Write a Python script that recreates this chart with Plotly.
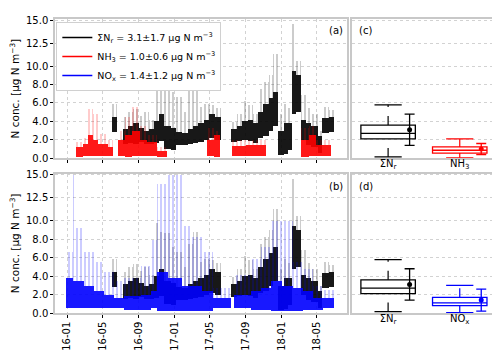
import pandas as pd
import plotly.graph_objects as go

# ---- time series: start, end, core low/high, peak ----
NR_START = ["2016-06-03", "2016-07-10", "2016-07-28", "2016-08-14", "2016-09-01", "2016-09-18",
            "2016-10-05", "2016-10-22", "2016-11-08", "2016-11-28", "2016-12-20", "2017-01-05",
            "2017-01-25", "2017-02-15", "2017-03-05", "2017-03-22", "2017-04-10", "2017-04-28",
            "2017-05-18", "2017-07-14", "2017-08-02", "2017-08-20", "2017-09-08", "2017-09-26",
            "2017-10-14", "2017-10-31", "2017-11-18", "2017-12-04", "2017-12-20", "2018-01-08",
            "2018-01-22", "2018-02-07", "2018-02-18", "2018-03-08", "2018-03-25", "2018-04-10",
            "2018-05-05", "2018-05-20", "2018-06-10"]
NR_END = ["2016-06-19", "2016-07-28", "2016-08-14", "2016-09-01", "2016-09-18", "2016-10-05",
          "2016-10-22", "2016-11-08", "2016-11-28", "2016-12-20", "2017-01-05", "2017-01-25",
          "2017-02-15", "2017-03-05", "2017-03-22", "2017-04-10", "2017-04-28", "2017-05-18",
          "2017-06-10", "2017-08-02", "2017-08-20", "2017-09-08", "2017-09-26", "2017-10-14",
          "2017-10-31", "2017-11-18", "2017-12-04", "2017-12-20", "2018-01-08", "2018-01-22",
          "2018-02-04", "2018-02-18", "2018-03-08", "2018-03-25", "2018-04-10", "2018-05-05",
          "2018-05-20", "2018-06-10", "2018-06-28"]
NR_LO = [2.8, 1.5, 1.7, 1.5, 1.8, 1.5, 1.5, 1.7, 1.9, 1.0, 0.9, 1.4, 1.4, 1.6, 1.7, 1.8, 2.0, 2.2,
         2.0, 1.8, 1.9, 2.0, 1.9, 1.7, 2.2, 2.4, 3.0, 3.5, 0.4, 0.5, 0.9, 4.8, 5.0, 2.0, 1.4, 1.2,
         0.6, 2.7, 2.8]
NR_HI = [4.5, 3.2, 3.5, 3.8, 3.3, 3.0, 3.2, 4.0, 4.8, 3.5, 3.3, 2.8, 2.7, 3.2, 3.5, 3.8, 4.2, 4.8,
         4.5, 3.2, 3.5, 4.0, 4.1, 3.8, 5.0, 5.9, 6.5, 7.2, 3.0, 3.8, 3.8, 9.5, 9.0, 4.1, 3.8, 3.5,
         2.4, 4.4, 4.5]
NR_PEAK = [5.9, 4.5, 5.0, 5.3, 4.6, 5.0, 4.2, 9.8, 8.8, 8.7, 7.2, 6.6, 5.0, 7.5, 8.8, 5.6, 5.9, 5.8,
           5.5, 3.9, 4.8, 6.2, 5.8, 4.8, 7.5, 8.3, 9.0, 11.3, 4.8, 5.9, 5.5, 14.6, 10.5, 6.9, 5.5,
           4.8, 3.0, 5.6, 5.2]

NH3_START = ["2016-01-30", "2016-02-24", "2016-03-12", "2016-03-28", "2016-04-15", "2016-05-18",
             "2016-06-21", "2016-07-18", "2016-08-11", "2016-09-04", "2016-10-01", "2016-11-03",
             "2017-04-21", "2017-05-15", "2017-07-15", "2017-09-03", "2018-03-08", "2018-04-04",
             "2018-04-28"]
NH3_END = ["2016-02-24", "2016-03-12", "2016-03-28", "2016-04-15", "2016-05-18", "2016-06-04",
           "2016-07-18", "2016-08-11", "2016-09-04", "2016-10-01", "2016-11-03", "2016-12-07",
           "2017-05-15", "2017-06-06", "2017-09-03", "2017-11-10", "2018-04-04", "2018-04-28",
           "2018-06-17"]
NH3_LO = [0.1, 0.2, 0.3, 0.3, 0.2, 0.2, 0.2, 0.1, 0.2, 0.3, 0.3, 0.1, 0.2, 0.1, 0.3, 0.3, 0.1, 0.2, 0.2]
NH3_HI = [1.2, 1.5, 2.5, 2.0, 1.5, 1.2, 2.0, 2.5, 3.0, 2.0, 1.8, 0.8, 2.0, 2.5, 1.3, 1.4, 2.0, 2.5, 1.4]
NH3_PEAK = [1.8, 2.2, 5.4, 4.8, 2.6, 2.0, 3.0, 4.5, 5.6, 3.5, 2.5, 1.2, 3.3, 3.0, 2.0, 2.0, 3.3, 3.5, 2.0]

NOX_START = ["2015-12-29", "2016-01-21", "2016-01-27", "2016-02-28", "2016-04-01", "2016-05-05",
             "2016-06-08", "2016-07-12", "2016-09-08", "2016-10-12", "2016-11-03", "2016-12-10",
             "2017-01-25", "2017-03-02", "2017-04-06", "2017-05-12", "2017-07-22", "2017-09-20",
             "2017-10-24", "2017-11-27", "2018-01-03", "2018-02-09", "2018-03-15", "2018-04-18",
             "2018-05-22"]
NOX_END = ["2016-01-21", "2016-01-27", "2016-02-28", "2016-04-01", "2016-05-05", "2016-06-08",
           "2016-07-12", "2016-09-08", "2016-10-12", "2016-11-03", "2016-12-10", "2017-01-25",
           "2017-03-02", "2017-04-06", "2017-05-12", "2017-07-11", "2017-09-20", "2017-10-24",
           "2017-11-27", "2018-01-03", "2018-02-09", "2018-03-15", "2018-04-18", "2018-05-22",
           "2018-06-28"]
NOX_LO = [0.6, 0.6, 0.6, 0.6, 0.6, 0.6, 0.6, 0.4, 0.4, 0.6, 0.3, 0.3, 0.3, 0.3, 0.3, 0.6, 0.6, 0.4,
          0.4, 0.3, 0.3, 0.3, 0.4, 0.4, 0.6]
NOX_HI = [3.8, 3.5, 3.5, 3.0, 2.4, 2.0, 1.7, 1.9, 2.0, 2.4, 4.5, 3.8, 3.0, 3.0, 2.4, 1.7, 2.0, 2.4,
          2.7, 3.5, 3.0, 2.7, 2.4, 1.7, 1.7]
NOX_PEAK = [6.6, 15.0, 9.3, 6.6, 5.6, 4.5, 3.5, 3.8, 5.1, 8.0, 14.0, 15.0, 9.5, 8.3, 6.6, 2.7, 4.1,
            5.9, 7.2, 10.0, 10.0, 5.6, 4.8, 3.0, 2.5]

# ---- box statistics (c, d) ----
BOX_LABELS = ["ΣN<sub>r</sub>", "NH<sub>3</sub>", "NO<sub>x</sub>"]
BOX_COLORS = ["black", "red", "blue"]
BOX_LOW = [0.15, 0.05, 0.05]
BOX_Q1 = [2.1, 0.56, 0.8]
BOX_MED = [2.7, 0.87, 1.1]
BOX_Q3 = [3.6, 1.23, 1.7]
BOX_HIGH = [5.8, 2.1, 3.0]
MEANS = [3.1, 1.0, 1.4]
SDS = [1.7, 0.6, 1.2]

YTICKS = [0, 2, 4, 6, 8, 10, 12.5, 15]
XTICKS = ["2016-01-01", "2016-05-01", "2016-09-01", "2017-01-01", "2017-05-01",
          "2017-09-01", "2018-01-01", "2018-05-01"]

FONT = "DejaVu Sans"
GRID = "#d2d2d2"
FRAME = "#c8c8c8"
YMAX = 15.11

fig = go.Figure()


def add_series(start, end, lo, hi, peak, color, xa, ya):
    s = pd.to_datetime(start)
    e = pd.to_datetime(end)
    mid = s + (e - s) / 2
    width = [(b - a).total_seconds() * 1000 for a, b in zip(s, e)]
    core = [h - l for l, h in zip(lo, hi)]
    top = [p - h for h, p in zip(hi, peak)]
    # sparse upper points, drawn as thin streaks
    fig.add_trace(go.Bar(
        x=mid, y=top, base=hi, width=width, xaxis=xa, yaxis=ya,
        marker=dict(color="rgba(0,0,0,0)", line=dict(width=0),
                    pattern=dict(shape="|", fgcolor=color, bgcolor="rgba(0,0,0,0)",
                                 size=4, solidity=0.2, fgopacity=0.5, fillmode="overlay")),
        showlegend=False, hoverinfo="skip",
    ))
    # dense core
    fig.add_trace(go.Bar(
        x=mid, y=core, base=lo, width=width, xaxis=xa, yaxis=ya,
        marker=dict(color=color, line=dict(width=0)), opacity=0.9,
        showlegend=False, hoverinfo="skip",
    ))


# (a) ΣNr with NH3 on top, (b) ΣNr with NOx on top
add_series(NR_START, NR_END, NR_LO, NR_HI, NR_PEAK, "black", "x", "y")
add_series(NH3_START, NH3_END, NH3_LO, NH3_HI, NH3_PEAK, "red", "x", "y")
add_series(NR_START, NR_END, NR_LO, NR_HI, NR_PEAK, "black", "x3", "y3")
add_series(NOX_START, NOX_END, NOX_LO, NOX_HI, NOX_PEAK, "blue", "x3", "y3")

# legend entries
legend_names = ["ΣN<sub>r</sub> = 3.1±1.7 μg N m<sup>−3</sup>",
                "NH<sub>3</sub> = 1.0±0.6 μg N m<sup>−3</sup>",
                "NO<sub>x</sub> = 1.4±1.2 μg N m<sup>−3</sup>"]
for name, col in zip(legend_names, BOX_COLORS):
    fig.add_trace(go.Scatter(x=[None], y=[None], mode="lines", name=name,
                             line=dict(color=col, width=1.5), xaxis="x", yaxis="y"))


def add_box(i, pos, xa, ya):
    col = BOX_COLORS[i]
    fig.add_trace(go.Box(
        x=[pos], q1=[BOX_Q1[i]], median=[BOX_MED[i]], q3=[BOX_Q3[i]],
        lowerfence=[BOX_Q1[i]], upperfence=[BOX_Q3[i]], width=0.76, whiskerwidth=0,
        fillcolor="rgba(0,0,0,0)", line=dict(color=col, width=1.3),
        xaxis=xa, yaxis=ya, showlegend=False, hoverinfo="skip",
    ))
    # dashed whiskers
    fig.add_trace(go.Scatter(
        x=[pos, pos, None, pos, pos], y=[BOX_LOW[i], BOX_Q1[i], None, BOX_Q3[i], BOX_HIGH[i]],
        mode="lines", line=dict(color=col, width=1.2, dash="dash"),
        xaxis=xa, yaxis=ya, showlegend=False, hoverinfo="skip",
    ))
    # caps
    fig.add_trace(go.Scatter(
        x=[pos - 0.19, pos + 0.19, None, pos - 0.19, pos + 0.19],
        y=[BOX_LOW[i], BOX_LOW[i], None, BOX_HIGH[i], BOX_HIGH[i]],
        mode="lines", line=dict(color=col, width=1.3),
        xaxis=xa, yaxis=ya, showlegend=False, hoverinfo="skip",
    ))
    # mean ± sd
    fig.add_trace(go.Scatter(
        x=[pos + 0.3], y=[MEANS[i]], mode="markers",
        marker=dict(color=col, size=5),
        error_y=dict(type="data", array=[SDS[i]], color=col, thickness=1.3, width=5),
        xaxis=xa, yaxis=ya, showlegend=False, hoverinfo="skip",
    ))


add_box(0, 0, "x2", "y2")
add_box(1, 1, "x2", "y2")
add_box(0, 0, "x4", "y4")
add_box(2, 1, "x4", "y4")

ts_x = dict(type="date", range=["2015-11-21", "2018-08-13"], tickvals=XTICKS,
            tickformat="%y-%m", ticks="outside", ticklen=3, tickcolor="black",
            showgrid=True, gridcolor=GRID, griddash="dot", gridwidth=1,
            showline=True, linecolor=FRAME, linewidth=1.5, mirror=True, zeroline=False,
            tickfont=dict(size=10, color="black"))
ts_y = dict(range=[0, YMAX], tickvals=YTICKS, tickformat=".1f", ticks="outside", ticklen=3,
            tickcolor="black", showgrid=True, gridcolor=GRID, griddash="dot", gridwidth=1,
            showline=True, linecolor=FRAME, linewidth=1.5, mirror=True, zeroline=False,
            tickfont=dict(size=10, color="black"),
            title=dict(text="N conc. [μg N m<sup>−3</sup>]", font=dict(size=10.5, color="black"),
                       standoff=4))
bx_x = dict(range=[-0.5, 1.52], tickvals=[0, 1], ticks="", showgrid=False,
            showline=True, linecolor=FRAME, linewidth=1.5, mirror=True, zeroline=False,
            tickfont=dict(size=10, color="black"), ticklabelstandoff=-5)
bx_y = dict(range=[0, YMAX], tickvals=YTICKS, side="right", showticklabels=False,
            ticks="outside", ticklen=4, tickcolor="black", showgrid=True, gridcolor=GRID,
            griddash="dot", gridwidth=1, showline=True, linecolor=FRAME, linewidth=1.5,
            mirror=True, zeroline=False)

xd1 = [0, 0.6614]
xd2 = [0.6726, 1]
yd1 = [0.5263, 1]
yd2 = [0, 0.4737]

fig.update_layout(
    width=500, height=350,
    margin=dict(l=47, r=7, t=7, b=39),
    paper_bgcolor="white", plot_bgcolor="white",
    font=dict(family=FONT, size=10, color="black"),
    barmode="overlay", bargap=0,
    xaxis=dict(ts_x, domain=xd1, anchor="y", showticklabels=False),
    yaxis=dict(ts_y, domain=yd1, anchor="x"),
    xaxis2=dict(bx_x, domain=xd2, anchor="y2", ticktext=[BOX_LABELS[0], BOX_LABELS[1]]),
    yaxis2=dict(bx_y, domain=yd1, anchor="x2"),
    xaxis3=dict(ts_x, domain=xd1, anchor="y3", tickangle=-90),
    yaxis3=dict(ts_y, domain=yd2, anchor="x3"),
    xaxis4=dict(bx_x, domain=xd2, anchor="y4", ticktext=[BOX_LABELS[0], BOX_LABELS[2]]),
    yaxis4=dict(bx_y, domain=yd2, anchor="x4"),
    legend=dict(x=0.003, y=0.99, xanchor="left", yanchor="top", bgcolor="white",
                bordercolor="#d0d0d0", borderwidth=1, font=dict(size=9.5),
                tracegroupgap=0, itemwidth=30),
    showlegend=True,
)

for txt, x, y, anchor in [("(a)", 0.657, 0.9605, "right"), ("(c)", 0.684, 0.9605, "left"),
                          ("(b)", 0.657, 0.431, "right"), ("(d)", 0.684, 0.431, "left")]:
    fig.add_annotation(text=txt, x=x, y=y, xref="paper", yref="paper", xanchor=anchor,
                       yanchor="middle", showarrow=False, font=dict(size=10, color="black"))

fig.write_html("out.html")
